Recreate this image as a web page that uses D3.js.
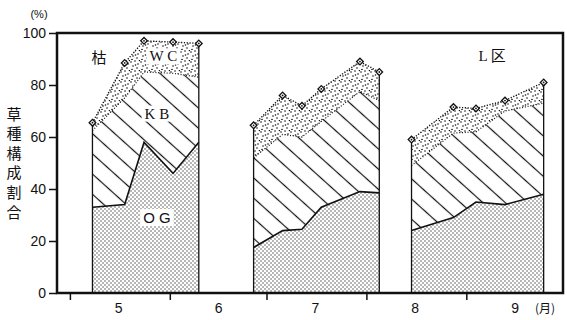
<!DOCTYPE html>
<html>
<head>
<meta charset="utf-8">
<script src="https://cdn.jsdelivr.net/npm/d3@7"></script>
<style>
body { margin: 0; background: #fff; }
text { font-family: "Liberation Sans", Arial, sans-serif; fill: #111; }
.cjk { font-family: "Noto Sans CJK JP", sans-serif; }
.serif { font-family: "Liberation Serif", "Noto Sans CJK JP", serif; }
</style>
</head>
<body>
<script>
// survey dates per period (1985 used as a dummy year)
var dates1 = ["05-08", "05-18", "05-24", "06-02", "06-10"];
var dates2 = ["06-27", "07-06", "07-12", "07-18", "07-30", "08-05"];
var dates3 = ["08-15", "08-28", "09-04", "09-13", "09-25"];

// composition (%) : OG, KB, WC  (rest up to 100 = 枯)
var og1 = [33, 34, 58, 46, 58];
var kb1 = [29.5, 41, 27, 38.5, 25];
var wc1 = [3, 13.5, 12, 12, 13];

var og2 = [17.5, 24, 24.5, 33, 39, 38.5];
var kb2 = [34.5, 37, 35.5, 33, 38.5, 35.5];
var wc2 = [12.5, 15, 12, 12.5, 11.5, 11];

var og3 = [24, 29, 35, 34, 38];
var kb3 = [25, 32.5, 27, 36, 35];
var wc3 = [10, 10, 9, 4, 8];

var yTicks = [0, 20, 40, 60, 80, 100];
var monthStarts = ["05-01", "06-01", "07-01", "08-01", "09-01"];
var monthMids = ["05-16", "06-16", "07-16", "08-16", "09-16"];
var monthLabels = ["5", "6", "7", "8", "9"];
var yTitle = "草種構成割合";

var parse = d3.timeParse("%Y-%m-%d");
function dt(s) { return parse("1985-" + s); }

var svg = d3.select("body").append("svg")
  .attr("width", 567)
  .attr("height", 320);

var x = d3.scaleTime()
  .domain([dt("04-27"), dt("10-01")])
  .range([57, 563]);
var y = d3.scaleLinear().domain([0, 100]).range([293, 33]);

// patterns
var defs = svg.append("defs");
var pOG = defs.append("pattern").attr("id", "og")
  .attr("patternUnits", "userSpaceOnUse").attr("width", 4).attr("height", 4);
pOG.append("circle").attr("cx", 1).attr("cy", 1).attr("r", 0.7).attr("fill", "#333");
pOG.append("circle").attr("cx", 3).attr("cy", 3).attr("r", 0.7).attr("fill", "#333");

var pKB = defs.append("pattern").attr("id", "kb")
  .attr("patternUnits", "userSpaceOnUse").attr("width", 15).attr("height", 15)
  .attr("patternTransform", "rotate(42)");
pKB.append("line").attr("x1", 0).attr("x2", 15).attr("y1", 7.5).attr("y2", 7.5)
  .attr("stroke", "#111").attr("stroke-width", 1.2);

var pWC = defs.append("pattern").attr("id", "wc")
  .attr("patternUnits", "userSpaceOnUse").attr("width", 10).attr("height", 10);
[[1, 2], [5, 1], [8, 4], [3, 6], [7, 8], [2, 9.5], [9.5, 0.5], [5.5, 5]].forEach(function (p) {
  pWC.append("circle").attr("cx", p[0]).attr("cy", p[1]).attr("r", 0.8).attr("fill", "#111");
});

function build(dates, og, kb, wc) {
  return dates.map(function (d, i) {
    return { date: dt(d), og: og[i], kb: og[i] + kb[i], wc: og[i] + kb[i] + wc[i] };
  });
}
var periods = [build(dates1, og1, kb1, wc1), build(dates2, og2, kb2, wc2), build(dates3, og3, kb3, wc3)];

var g = svg.append("g");
periods.forEach(function (data) {
  var areaOG = d3.area().x(d => x(d.date)).y0(y(0)).y1(d => y(d.og));
  var areaKB = d3.area().x(d => x(d.date)).y0(d => y(d.og)).y1(d => y(d.kb));
  var areaWC = d3.area().x(d => x(d.date)).y0(d => y(d.kb)).y1(d => y(d.wc));

  g.append("path").datum(data).attr("d", areaWC).attr("fill", "url(#wc)");
  g.append("path").datum(data).attr("d", areaKB).attr("fill", "url(#kb)");
  g.append("path").datum(data).attr("d", areaOG).attr("fill", "url(#og)");

  g.append("path").datum(data)
    .attr("d", d3.line().x(d => x(d.date)).y(d => y(d.og)))
    .attr("fill", "none").attr("stroke", "#111").attr("stroke-width", 1.6);
  g.append("path").datum(data)
    .attr("d", d3.line().x(d => x(d.date)).y(d => y(d.kb)))
    .attr("fill", "none").attr("stroke", "#111").attr("stroke-width", 1.2)
    .attr("stroke-dasharray", "1,1.8");
  g.append("path").datum(data)
    .attr("d", d3.line().x(d => x(d.date)).y(d => y(d.wc)))
    .attr("fill", "none").attr("stroke", "#111").attr("stroke-width", 1.4)
    .attr("stroke-dasharray", "1.2,1.6");

  // side edges
  [data[0], data[data.length - 1]].forEach(function (d) {
    g.append("line")
      .attr("x1", x(d.date)).attr("x2", x(d.date))
      .attr("y1", y(0)).attr("y2", y(d.wc))
      .attr("stroke", "#111").attr("stroke-width", 1.3);
  });

  var m = g.selectAll(null).data(data).enter().append("g")
    .attr("transform", d => "translate(" + x(d.date) + "," + y(d.wc) + ")");
  m.append("path")
    .attr("d", d3.symbol().type(d3.symbolSquare).size(22))
    .attr("transform", "rotate(45)")
    .attr("fill", "#fff").attr("stroke", "#111").attr("stroke-width", 1.3);
  m.append("circle").attr("r", 0.9).attr("fill", "#111");
});

// frame
var frame = svg.append("g").attr("fill", "none").attr("stroke", "#111").attr("stroke-width", 2.5);
frame.append("path")
  .attr("d", "M" + x.range()[0] + "," + y(0) + "V" + y(100) + "H" + x.range()[1] + "V" + y(0) + "Z");

// axes
var yAxis = svg.append("g").attr("transform", "translate(57,0)")
  .call(d3.axisLeft(y).tickValues(yTicks).tickSize(8).tickPadding(3));
yAxis.select(".domain").remove();
yAxis.selectAll("line").attr("stroke", "#111").attr("stroke-width", 1.5);
yAxis.selectAll("text").attr("font-size", 14).attr("font-family", "Liberation Sans, Arial, sans-serif").attr("fill", "#111");

var xAxis = svg.append("g").attr("transform", "translate(0," + y(0) + ")")
  .call(d3.axisBottom(x).tickValues(monthStarts.map(dt)).tickSize(7).tickFormat(""));
xAxis.select(".domain").remove();
xAxis.selectAll("line").attr("stroke", "#111").attr("stroke-width", 1.5);

var xLab = svg.append("g").attr("transform", "translate(0," + y(0) + ")")
  .call(d3.axisBottom(x).tickValues(monthMids.map(dt)).tickSize(0).tickPadding(10)
    .tickFormat((d, i) => monthLabels[i]));
xLab.select(".domain").remove();
xLab.selectAll("text").attr("font-size", 14).attr("font-family", "Liberation Sans, Arial, sans-serif").attr("fill", "#111");

svg.append("text").attr("class", "cjk").attr("x", 545).attr("y", 313)
  .attr("text-anchor", "middle").attr("font-size", 12).text("(月)");
svg.append("text").attr("x", 39).attr("y", 18)
  .attr("text-anchor", "middle").attr("font-size", 11).text("(%)");

// y title, stacked vertically
svg.append("g").selectAll("text").data(yTitle.split("")).enter().append("text")
  .attr("class", "cjk")
  .attr("x", 14).attr("y", (d, i) => 113 + i * 19.6)
  .attr("text-anchor", "middle").attr("dominant-baseline", "central")
  .attr("font-size", 15).text(d => d);

// layer labels (white box behind so the fill does not run through them)
var labels = [
  { t: "枯", d: "05-10", v: 90.8, cls: "cjk" },
  { t: "W C", d: "05-30", v: 91, cls: "serif" },
  { t: "K B", d: "05-28", v: 69, cls: "serif" },
  { t: "O G", d: "05-28", v: 29, cls: null },
  { t: "L 区", d: "09-09", v: 91, cls: "serif" }
];
var lg = svg.append("g").selectAll("g").data(labels).enter().append("g");
var lt = lg.append("text")
  .attr("class", d => d.cls)
  .attr("x", d => x(dt(d.d))).attr("y", d => y(d.v))
  .attr("text-anchor", "middle").attr("dominant-baseline", "central")
  .attr("font-size", 15)
  .text(d => d.t);
lt.each(function () {
  var b = this.getBBox();
  d3.select(this.parentNode).insert("rect", "text")
    .attr("x", b.x - 3).attr("y", b.y)
    .attr("width", b.width + 6).attr("height", b.height)
    .attr("fill", "#fff");
});
</script>
</body>
</html>
